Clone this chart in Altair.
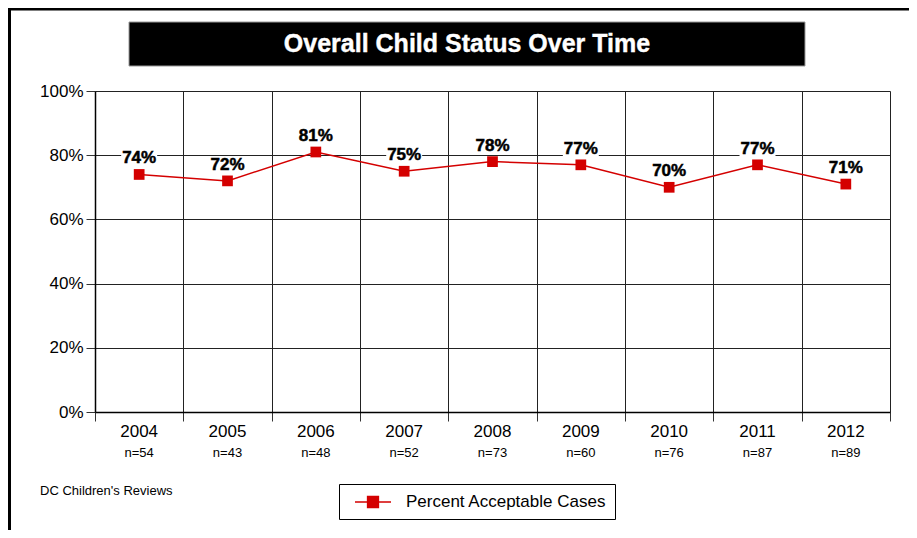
import altair as alt
import pandas as pd

years = ["2004", "2005", "2006", "2007", "2008", "2009", "2010", "2011", "2012"]
pct = [74, 72, 81, 75, 78, 77, 70, 77, 71]
ns = [54, 43, 48, 52, 73, 60, 76, 87, 89]
series_name = "Percent Acceptable Cases"
title_text = "Overall Child Status Over Time"
source_text = "DC Children's Reviews"
y_ticks = [0, 0.2, 0.4, 0.6, 0.8, 1.0]

df = pd.DataFrame({
    "year": years,
    "pos": [i + 0.5 for i in range(len(years))],
    "value": [p / 100 for p in pct],
    "label": [f"{p}%" for p in pct],
    "n": [f"n={n}" for n in ns],
    "series": [series_name] * len(years),
})

W, H = 795, 321
FONT = "Liberation Sans"
RED = "#d40000"

xscale = alt.Scale(domain=[0, len(years)], nice=False, zero=False)
yscale = alt.Scale(domain=[0, 1], nice=False)

x_enc = alt.X("pos:Q", scale=xscale, axis=alt.Axis(
    values=list(range(len(years) + 1)), grid=True, labels=False, ticks=True,
    tickSize=9, title=None, domainColor="black", domainWidth=1.5,
    tickColor="#333", gridColor="#222", gridWidth=1))
y_enc = alt.Y("value:Q", scale=yscale, axis=alt.Axis(
    values=y_ticks, format="%", grid=True, tickSize=9, labelPadding=3,
    labelFontSize=17, labelFont=FONT, labelColor="black", title=None,
    tickColor="#333", gridColor="#222", gridWidth=1, domainColor="black",
    domainWidth=1.5))

color_enc = alt.Color("series:N", scale=alt.Scale(range=[RED]), legend=alt.Legend(
    title=None, orient="none", legendX=244, legendY=393,
    strokeColor="black", fillColor="white", padding=8,
    symbolType="M-2,0H2M-0.6,-0.6H0.6V0.6H-0.6Z", symbolSize=324,
    symbolStrokeWidth=1.5, symbolOffset=16, labelOffset=23, labelLimit=500,
    labelExpr="datum.label + '\u00a0\u00a0'",
    labelFontSize=17, labelFont=FONT, labelColor="black"))

base = alt.Chart(df)

line = base.mark_line(strokeWidth=1.5).encode(x=x_enc, y=y_enc, color=color_enc)
points = base.mark_point(shape="square", filled=True, size=115, opacity=1).encode(
    x="pos:Q", y="value:Q", color=alt.Color("series:N", scale=alt.Scale(range=[RED])))

label_bg = base.mark_point(
    shape="M-1.1,-0.45H1.1V0.45H-1.1Z", filled=True, color="white",
    size=1070, opacity=1, strokeWidth=0, yOffset=-16).encode(x="pos:Q", y="value:Q")
labels = base.mark_text(font=FONT, fontWeight="bold", fontSize=17, dy=-16,
                        baseline="middle", color="black", stroke="black",
                        strokeWidth=0.5).encode(x="pos:Q", y="value:Q", text="label:N")

year_labels = base.mark_text(font=FONT, fontSize=17, color="black", baseline="middle").encode(
    x="pos:Q", y=alt.value(H + 20), text="year:N")
n_labels = base.mark_text(font=FONT, fontSize=13, color="black", baseline="middle").encode(
    x="pos:Q", y=alt.value(H + 41), text="n:N")

tdf = pd.DataFrame({"t": [title_text]})
title_box = alt.Chart(tdf).mark_rect(color="black", stroke="#999", strokeWidth=1).encode(
    x=alt.value(34), x2=alt.value(710), y=alt.value(-69), y2=alt.value(-25))
title_mark = alt.Chart(tdf).mark_text(font=FONT, fontWeight="bold", fontSize=25,
                                     color="white", baseline="middle", stroke="white",
                                     strokeWidth=0.4).encode(
    x=alt.value(372), y=alt.value(-47), text="t:N")

sdf = pd.DataFrame({"t": [source_text]})
source_mark = alt.Chart(sdf).mark_text(font=FONT, fontSize=13, color="black",
                                       align="left", baseline="middle").encode(
    x=alt.value(-55), y=alt.value(400), text="t:N")

left_border = alt.Chart(tdf).mark_rule(color="black", strokeWidth=3).encode(
    x=alt.value(-85.5), y=alt.value(-84), y2=alt.value(H + 130))
top_border = alt.Chart(tdf).mark_rule(color="black", strokeWidth=3).encode(
    x=alt.value(-87), x2=alt.value(W + 30), y=alt.value(-82))

chart = alt.layer(
    line, label_bg, labels, points, year_labels, n_labels,
    title_box, title_mark, source_mark, left_border, top_border
).properties(
    width=W, height=H,
    autosize=alt.AutoSizeParams(type="none"),
    padding={"left": 87, "top": 83, "right": 19, "bottom": 118},
    background="white",
).configure_view(stroke="black", strokeWidth=1.5).configure(font=FONT)

chart.save("out.html", embed_options={"renderer": "svg", "actions": False})
